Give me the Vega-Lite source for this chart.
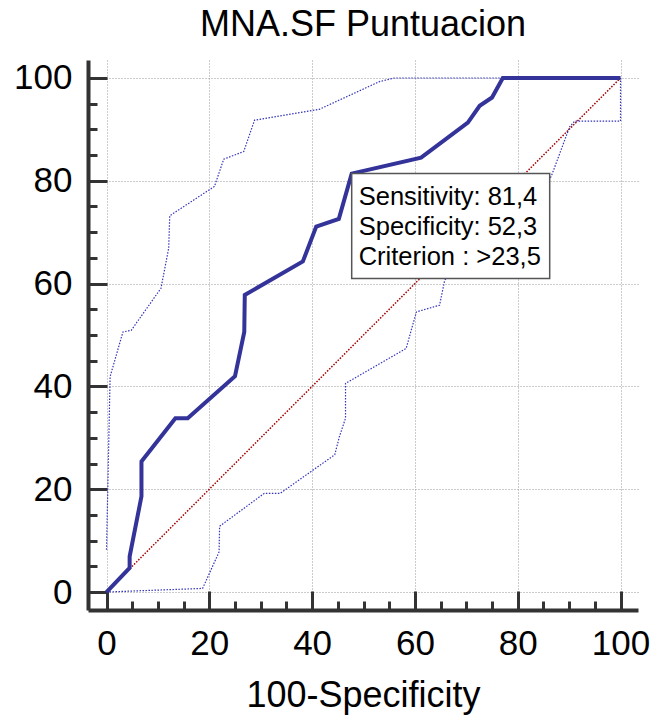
{
  "$schema": "https://vega.github.io/schema/vega-lite/v6.json",
  "width": 550,
  "height": 550,
  "autosize": {"type": "none"},
  "padding": {"left": 88, "top": 60, "right": 20, "bottom": 109},
  "background": "white",
  "config": {
    "view": {"stroke": null},
    "font": "Liberation Sans",
    "text": {"font": "Liberation Sans"}
  },
  "title": {
    "text": "MNA.SF Puntuacion",
    "fontSize": 36,
    "fontWeight": "normal",
    "color": "black",
    "anchor": "middle",
    "offset": 16
  },
  "datasets": {
    "diag": [
      {"fpr": 0, "sens": 0},
      {"fpr": 100, "sens": 100}
    ],
    "ci": [
      {"bound": "upper", "fpr": 0, "sens": 8.2},
      {"bound": "upper", "fpr": 0.7, "sens": 41.9},
      {"bound": "upper", "fpr": 3.2, "sens": 50.6},
      {"bound": "upper", "fpr": 4.8, "sens": 50.9},
      {"bound": "upper", "fpr": 10.6, "sens": 59.1},
      {"bound": "upper", "fpr": 12.1, "sens": 66.9},
      {"bound": "upper", "fpr": 12.3, "sens": 73.2},
      {"bound": "upper", "fpr": 21.0, "sens": 78.9},
      {"bound": "upper", "fpr": 22.8, "sens": 84.2},
      {"bound": "upper", "fpr": 26.7, "sens": 85.7},
      {"bound": "upper", "fpr": 28.8, "sens": 91.8},
      {"bound": "upper", "fpr": 41.4, "sens": 93.9},
      {"bound": "upper", "fpr": 53.1, "sens": 99.3},
      {"bound": "upper", "fpr": 56.0, "sens": 100},
      {"bound": "upper", "fpr": 100, "sens": 100},
      {"bound": "lower", "fpr": 0, "sens": 0},
      {"bound": "lower", "fpr": 18.7, "sens": 0.7},
      {"bound": "lower", "fpr": 21.9, "sens": 7.8},
      {"bound": "lower", "fpr": 22.0, "sens": 12.8},
      {"bound": "lower", "fpr": 30.7, "sens": 19.2},
      {"bound": "lower", "fpr": 33.8, "sens": 19.2},
      {"bound": "lower", "fpr": 44.4, "sens": 26.7},
      {"bound": "lower", "fpr": 45.3, "sens": 30.2},
      {"bound": "lower", "fpr": 46.5, "sens": 33.8},
      {"bound": "lower", "fpr": 46.5, "sens": 40.6},
      {"bound": "lower", "fpr": 58.3, "sens": 47.4},
      {"bound": "lower", "fpr": 59.3, "sens": 51.0},
      {"bound": "lower", "fpr": 60.3, "sens": 54.5},
      {"bound": "lower", "fpr": 64.8, "sens": 55.8},
      {"bound": "lower", "fpr": 65.8, "sens": 60.7},
      {"bound": "lower", "fpr": 70.0, "sens": 65.0},
      {"bound": "lower", "fpr": 76.0, "sens": 71.0},
      {"bound": "lower", "fpr": 82.0, "sens": 76.0},
      {"bound": "lower", "fpr": 86.5, "sens": 80.8},
      {"bound": "lower", "fpr": 88.8, "sens": 87.0},
      {"bound": "lower", "fpr": 90.1, "sens": 90.5},
      {"bound": "lower", "fpr": 91.1, "sens": 91.6},
      {"bound": "lower", "fpr": 100, "sens": 91.6},
      {"bound": "lower", "fpr": 100, "sens": 100}
    ],
    "roc": [
      {"fpr": 0, "sens": 0},
      {"fpr": 4.5, "sens": 4.7},
      {"fpr": 4.5, "sens": 6.9},
      {"fpr": 6.8, "sens": 18.6},
      {"fpr": 6.8, "sens": 25.4},
      {"fpr": 13.4, "sens": 33.8},
      {"fpr": 15.8, "sens": 33.8},
      {"fpr": 25.0, "sens": 42.0},
      {"fpr": 26.8, "sens": 50.6},
      {"fpr": 26.9, "sens": 57.8},
      {"fpr": 38.2, "sens": 64.3},
      {"fpr": 40.8, "sens": 71.1},
      {"fpr": 45.2, "sens": 72.6},
      {"fpr": 47.7, "sens": 81.4},
      {"fpr": 61.2, "sens": 84.5},
      {"fpr": 70.3, "sens": 91.3},
      {"fpr": 72.6, "sens": 94.6},
      {"fpr": 75.0, "sens": 96.2},
      {"fpr": 77.1, "sens": 100},
      {"fpr": 100, "sens": 100}
    ],
    "criterion": [
      {"fpr": 47.7, "sens": 81.4, "label": "Sensitivity: 81,4\nSpecificity: 52,3\nCriterion : >23,5"}
    ]
  },
  "resolve": {"axis": {"x": "independent", "y": "independent"}},
  "layer": [
    {
      "data": {"name": "diag"},
      "mark": {"type": "line", "color": "#a00000", "strokeWidth": 1.5, "strokeDash": [1.5, 1.5]},
      "encoding": {
        "x": {
          "field": "fpr", "type": "quantitative",
          "scale": {"domain": [-3.6, 103.4], "nice": false, "zero": false},
          "axis": {
            "orient": "bottom",
            "title": "100-Specificity",
            "titleFontSize": 36, "titleFontWeight": "normal", "titleColor": "black",
            "titlePadding": 17,
            "values": [0, 20, 40, 60, 80, 100],
            "labelFontSize": 35, "labelColor": "black", "labelPadding": 35,
            "labelFlush": false, "labelOverlap": false,
            "tickSize": -19, "tickWidth": 3, "tickColor": "#333333",
            "domainColor": "#333333", "domainWidth": 4,
            "grid": true, "gridColor": "#999999", "gridDash": [1, 2], "gridWidth": 1
          }
        },
        "y": {
          "field": "sens", "type": "quantitative",
          "scale": {"domain": [-3.5, 103.5], "nice": false, "zero": false},
          "axis": {
            "orient": "left",
            "title": null,
            "values": [0, 20, 40, 60, 80, 100],
            "labelFontSize": 35, "labelColor": "black", "labelPadding": 35,
            "labelFlush": false, "labelOverlap": false,
            "tickSize": -19, "tickWidth": 3, "tickColor": "#333333",
            "domainColor": "#333333", "domainWidth": 4,
            "grid": true, "gridColor": "#999999", "gridDash": [1, 2], "gridWidth": 1
          }
        }
      }
    },
    {
      "data": {"name": "ci"},
      "mark": {"type": "line", "color": "#3333bb", "strokeWidth": 1.2, "strokeDash": [1.5, 1.5]},
      "encoding": {
        "detail": {"field": "bound"},
        "order": {"value": 0},
        "x": {
          "field": "fpr", "type": "quantitative",
          "axis": {
            "orient": "bottom", "title": null, "labels": false, "domain": false, "grid": false,
            "values": [5, 10, 15, 25, 30, 35, 45, 50, 55, 65, 70, 75, 85, 90, 95],
            "tickSize": -9, "tickWidth": 3, "tickColor": "#333333"
          }
        },
        "y": {
          "field": "sens", "type": "quantitative",
          "axis": {
            "orient": "left", "title": null, "labels": false, "domain": false, "grid": false,
            "values": [5, 10, 15, 25, 30, 35, 45, 50, 55, 65, 70, 75, 85, 90, 95],
            "tickSize": -9, "tickWidth": 3, "tickColor": "#333333"
          }
        }
      }
    },
    {
      "data": {"name": "roc"},
      "mark": {"type": "line", "color": "#333399", "strokeWidth": 4, "strokeJoin": "miter"},
      "encoding": {
        "order": {"value": 0},
        "x": {"field": "fpr", "type": "quantitative", "axis": null},
        "y": {"field": "sens", "type": "quantitative", "axis": null}
      }
    },
    {
      "data": {"name": "criterion"},
      "mark": {"type": "rect", "fill": "white", "stroke": "#555555", "strokeWidth": 1.5, "x2Offset": 198, "y2Offset": 105},
      "encoding": {
        "x": {"field": "fpr", "type": "quantitative", "axis": null},
        "x2": {"field": "fpr"},
        "y": {"field": "sens", "type": "quantitative", "axis": null},
        "y2": {"field": "sens"}
      }
    },
    {
      "data": {"name": "criterion"},
      "mark": {"type": "text", "align": "left", "baseline": "alphabetic", "dx": 7, "dy": 31, "fontSize": 25.5, "lineHeight": 30, "lineBreak": "\n", "color": "black"},
      "encoding": {
        "x": {"field": "fpr", "type": "quantitative", "axis": null},
        "y": {"field": "sens", "type": "quantitative", "axis": null},
        "text": {"field": "label"}
      }
    }
  ]
}
